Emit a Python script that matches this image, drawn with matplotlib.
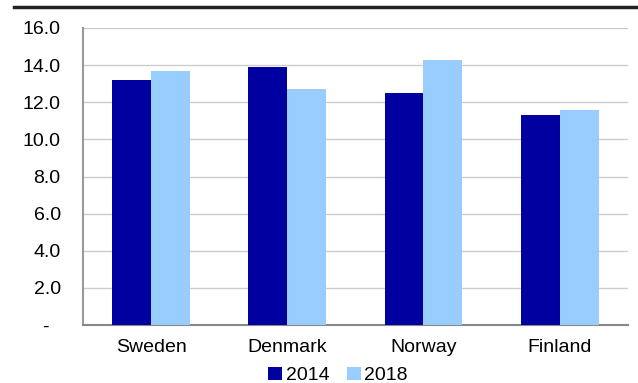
import matplotlib
matplotlib.use("Agg")
import matplotlib.pyplot as plt
import numpy as np
from matplotlib.lines import Line2D

countries = ["Sweden", "Denmark", "Norway", "Finland"]
years = ["2014", "2018"]
values_2014 = [13.2, 13.9, 12.5, 11.3]
values_2018 = [13.7, 12.7, 14.3, 11.6]
yticks = [0, 2, 4, 6, 8, 10, 12, 14, 16]
ytick_labels = ["-  ", "2.0", "4.0", "6.0", "8.0", "10.0", "12.0", "14.0", "16.0"]

plt.rcParams["font.family"] = ["Liberation Sans", "DejaVu Sans"]
FS = 14

fig = plt.figure(figsize=(6.38, 3.83), dpi=100)
ax = fig.add_axes([0.130, 0.1514, 0.854, 0.7755])

x = np.arange(len(countries))
w = 0.286
ax.bar(x - w / 2, values_2014, w, color="#0000A0", label=years[0], zorder=3)
ax.bar(x + w / 2, values_2018, w, color="#99CCFF", label=years[1], zorder=3)

ax.set_xlim(-0.5, len(countries) - 0.5)
ax.set_ylim(0, 16)
ax.set_yticks(yticks)
ax.set_yticklabels(ytick_labels)
ax.set_xticks(x)
ax.set_xticklabels(countries)
ax.tick_params(axis="y", length=0, pad=16, labelsize=FS)
ax.tick_params(axis="x", length=0, pad=10, labelsize=FS)
ax.grid(axis="y", color="#CCCCCC", lw=1, zorder=0)

for side in ("top", "right"):
    ax.spines[side].set_visible(False)
ax.spines["left"].set_color("#999999")
ax.spines["bottom"].set_color("#888888")
ax.spines["left"].set_linewidth(1.5)
ax.spines["bottom"].set_linewidth(1.5)

# heavy rule across the top of the figure
fig.add_artist(Line2D([0.022, 1.0], [0.982, 0.982], color="#222222", lw=2.5,
                      transform=fig.transFigure))

fig.legend(loc="center", bbox_to_anchor=(0.53, 0.02), ncol=2, frameon=False,
           fontsize=FS, handlelength=0.7, handleheight=0.7, handletextpad=0.2,
           columnspacing=0.9, borderaxespad=0)

fig.savefig("out.png", dpi=100)
